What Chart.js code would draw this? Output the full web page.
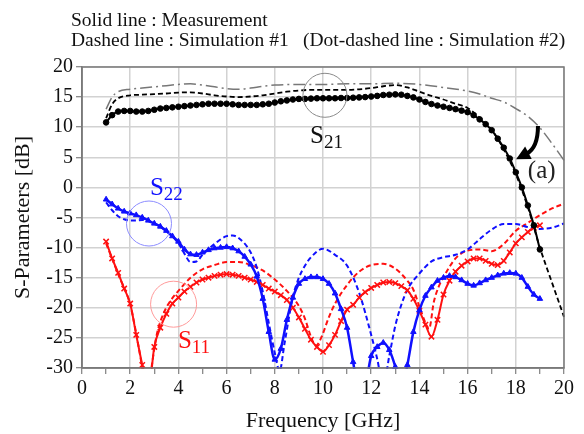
<!DOCTYPE html>
<html>
<head>
<meta charset="utf-8">
<script src="https://cdn.jsdelivr.net/npm/chart.js@4.4.1/dist/chart.umd.min.js"></script>
<style>
  body { margin: 0; background: #fff; }
  canvas { display: block; }
</style>
</head>
<body>
<canvas id="chart" width="584" height="434"></canvas>
<script>
// measured data, 0.25 GHz steps from 1 to 19 GHz
var freqMeas = [
  1, 1.25, 1.5, 1.75, 2, 2.25, 2.5, 2.75, 3, 3.25, 3.5, 3.75, 4, 4.25, 4.5, 4.75,
  5, 5.25, 5.5, 5.75, 6, 6.25, 6.5, 6.75, 7, 7.25, 7.5, 7.75, 8, 8.25, 8.5, 8.75,
  9, 9.25, 9.5, 9.75, 10, 10.25, 10.5, 10.75, 11, 11.25, 11.5, 11.75, 12, 12.25, 12.5, 12.75,
  13, 13.25, 13.5, 13.75, 14, 14.25, 14.5, 14.75, 15, 15.25, 15.5, 15.75, 16, 16.25, 16.5, 16.75,
  17, 17.25, 17.5, 17.75, 18, 18.25, 18.5, 18.75, 19
];
var s21Meas = [
  10.8, 12.0, 12.6, 12.7, 12.7, 12.6, 12.6, 12.7, 12.9, 13.1, 13.2, 13.3, 13.4, 13.5, 13.6, 13.7,
  13.8, 13.9, 13.9, 13.9, 13.9, 13.8, 13.7, 13.7, 13.7, 13.7, 13.8, 13.9, 14.1, 14.3, 14.45, 14.6,
  14.7, 14.7, 14.75, 14.8, 14.8, 14.8, 14.8, 14.85, 14.85, 14.9, 14.95, 15.0, 15.1, 15.2, 15.35, 15.4,
  15.45, 15.4, 15.2, 14.95, 14.6, 14.2, 13.85, 13.6, 13.4, 13.2, 13.0, 12.75, 12.5, 12.0, 11.3, 10.5,
  9.5, 8.1, 6.6, 4.8, 2.5, 0.0, -3.0, -6.3, -10.3
];
var s22Meas = [
  -2.0, -2.8, -3.5, -4.0, -4.3, -4.6, -5.0, -5.5, -6.0, -6.5, -7.2, -8.1, -9.0, -10.3, -11.1, -11.2,
  -10.8, -10.4, -10.1, -10.0, -9.9, -10.1, -10.6, -11.5, -12.8, -14.8, -18.5, -24.0, -28.6, -26.8, -22.0, -18.3,
  -16.0, -15.2, -14.9, -14.9, -15.2, -16.0, -17.6, -20.2, -23.3, -29.0, -34, -33, -28.0, -26.5, -25.8, -27.0,
  -29.8, -34, -29.5, -24.0, -20.4, -18.0, -16.6, -15.5, -15.0, -14.7, -14.9, -15.4, -16.0, -16.3, -15.9, -15.4,
  -15.0, -14.6, -14.3, -14.2, -14.3, -15.0, -16.5, -17.8, -18.5
];
var s11Meas = [
  -9.0, -11.8, -14.2, -16.8, -19.3, -24.5, -29.5, -34, -26.5, -23.3, -21.0, -19.3, -18.3, -17.3, -16.5, -15.8,
  -15.3, -15.0, -14.7, -14.5, -14.4, -14.5, -14.7, -15.0, -15.3, -15.7, -16.2, -16.8, -17.3, -17.9, -18.7, -20.0,
  -21.6, -23.5, -25.3, -26.5, -27.3, -26.2, -24.5, -22.2, -20.3, -19.5, -18.3, -17.4, -16.7, -16.2, -15.8, -15.7,
  -15.9, -16.4, -17.1, -18.5, -20.5, -22.8, -24.8, -22.0, -17.8, -15.5, -14.0, -13.0, -12.3, -11.8, -11.8, -12.2,
  -12.7, -12.9, -12.2, -10.8, -9.3, -8.3, -7.4, -6.7, -6.3
];

// simulation #1 (dashed)
var s21SimFreq = [1, 1.25, 1.5, 2, 2.5, 3, 3.5, 4, 4.5, 5, 5.5, 6, 6.5, 7, 7.5, 8, 8.5, 9, 9.5, 10,
  10.5, 11, 11.5, 12, 12.5, 13, 13.5, 14, 14.5, 15, 15.5, 16, 16.5, 17, 17.5, 18, 18.5, 19, 19.5, 20];
var s21Sim = [11.5, 13.8, 14.8, 15.3, 15.4, 15.5, 15.6, 15.75, 15.8, 15.6, 15.3, 15.1, 15.0, 15.1, 15.3, 15.6, 15.9, 16.1, 16.2, 16.2,
  16.2, 16.2, 16.3, 16.5, 16.8, 17.0, 16.6, 15.9, 15.2, 14.6, 13.9, 13.2, 11.6, 9.6, 6.3, 2.2, -3.3, -10.0, -15.8, -21.5];

var s22SimFreq = [1, 1.25, 1.5, 1.75, 2, 2.25, 2.5, 3, 3.5, 4, 4.25, 4.5, 4.75, 5, 5.5, 6, 6.25, 6.5, 7, 7.25,
  7.5, 7.75, 8, 8.2, 8.4, 8.75, 9, 9.25, 9.5, 10, 10.5, 11, 11.5, 12, 12.25, 12.5, 12.75, 13, 13.25, 13.5,
  14, 14.5, 15, 15.5, 16, 16.5, 17, 17.5, 18, 18.5, 19, 19.5, 20];
var s22Sim = [-2.5, -3.8, -4.8, -5.3, -5.5, -5.5, -5.4, -6.0, -7.3, -9.3, -11.0, -12.4, -12.3, -11.2, -9.4, -8.1, -8.0, -8.4, -10.8, -13.3,
  -17.3, -22.5, -27.5, -30.5, -26.0, -18.2, -15.0, -13.0, -11.6, -10.2, -11.2, -13.0, -17.5, -24.5, -28.5, -33, -28.0, -23.0, -19.5, -17.0,
  -14.3, -12.3, -11.6, -11.2, -10.3, -8.6, -7.0, -6.1, -6.1, -6.6, -6.9, -6.7, -6.0];

var s11SimFreq = [1, 1.5, 2, 2.25, 2.5, 2.7, 2.9, 3.1, 3.4, 3.75, 4, 4.5, 5, 5.5, 6, 6.5, 7, 7.5, 8, 8.5,
  9, 9.25, 9.5, 9.7, 9.9, 10.25, 10.5, 11, 11.5, 12, 12.5, 13, 13.5, 13.75, 14, 14.25, 14.4, 14.6, 14.8, 15,
  15.5, 16, 16.5, 17, 17.5, 18, 18.5, 19, 19.5, 20];
var s11Sim = [-9.3, -14.4, -19.5, -24.3, -30, -35, -29.5, -24.5, -20.8, -18.4, -17.2, -15.0, -13.6, -12.9, -12.4, -12.4, -12.9, -13.8, -15.3, -17.2,
  -19.7, -21.8, -24.8, -26.3, -25.2, -21.5, -19.3, -16.2, -14.0, -12.9, -12.7, -13.5, -15.5, -17.0, -19.8, -22.5, -23.5, -19.0, -16.5, -14.9,
  -11.8, -10.5, -10.3, -10.6, -9.4, -7.2, -5.9, -4.6, -3.5, -2.7];

// simulation #2 (dot-dashed), S21 only
var s21Sim2Freq = [1, 1.25, 1.5, 2, 2.5, 3, 3.5, 4, 4.5, 5, 5.5, 6, 6.5, 7, 7.5, 8, 9, 10, 11, 12,
  13, 14, 15, 16, 16.5, 17, 17.5, 18, 18.5, 19, 19.5, 20];
var s21Sim2 = [13.0, 15.0, 15.9, 16.3, 16.5, 16.7, 16.9, 17.1, 17.2, 17.0, 16.7, 16.4, 16.3, 16.5, 16.8, 17.0, 17.1, 17.1, 17.2, 17.2,
  17.3, 17.1, 16.6, 16.0, 15.5, 14.8, 14.2, 13.1, 11.8, 9.9, 7.3, 4.5];

var serif = '"Liberation Serif", "Times New Roman", serif';
var blue = '#1010ff';
var red = '#ff1010';

function pts(xs, ys) {
  return xs.map(function (x, i) { return { x: x, y: ys[i] }; });
}

function subLabel(ctx, x, y, main, sub, color) {
  ctx.fillStyle = color;
  ctx.textAlign = 'left';
  ctx.textBaseline = 'alphabetic';
  ctx.font = '25px ' + serif;
  ctx.fillText(main, x, y);
  var w = ctx.measureText(main).width;
  ctx.font = '19px ' + serif;
  ctx.fillText(sub, x + w, y + 5);
}

var overlay = {
  id: 'overlay',
  afterDraw: function (chart) {
    var ctx = chart.ctx;
    var a = chart.chartArea;
    var sx = chart.scales.x, sy = chart.scales.y;
    function px(v) { return sx.getPixelForValue(v); }
    function py(v) { return sy.getPixelForValue(v); }
    ctx.save();

    // plot frame
    ctx.strokeStyle = '#7a7a7a';
    ctx.lineWidth = 1.5;
    ctx.strokeRect(a.left, a.top, a.right - a.left, a.bottom - a.top);

    // header text
    ctx.fillStyle = '#111';
    ctx.font = '19.5px ' + serif;
    ctx.textAlign = 'left';
    ctx.textBaseline = 'alphabetic';
    ctx.fillText('Solid line : Measurement', 71, 26);
    ctx.fillText('Dashed line : Simulation #1', 71, 46);
    ctx.fillText('(Dot-dashed line : Simulation #2)', 303, 46);

    // circles marking the curves
    ctx.lineWidth = 1;
    ctx.strokeStyle = '#8a8a8a';
    ctx.beginPath(); ctx.arc(px(10.08), py(15.3), 22, 0, Math.PI * 2); ctx.stroke();
    ctx.strokeStyle = '#8c8cff';
    ctx.beginPath(); ctx.arc(px(2.78), py(-6.0), 22.5, 0, Math.PI * 2); ctx.stroke();
    ctx.strokeStyle = '#ff9a9a';
    ctx.beginPath(); ctx.arc(px(3.8), py(-19.4), 23, 0, Math.PI * 2); ctx.stroke();

    subLabel(ctx, px(9.46), py(7.3), 'S', '21', '#111');
    subLabel(ctx, px(2.82), py(-1.3), 'S', '22', blue);
    subLabel(ctx, px(3.98), py(-26.7), 'S', '11', red);

    // arrow (a)
    var x0 = px(18.92), y0 = py(10.2);
    var cx = px(18.92), cy = py(6.6);
    var x1 = px(18.45), y1 = py(5.6);
    ctx.strokeStyle = '#000';
    ctx.lineWidth = 4;
    ctx.beginPath();
    ctx.moveTo(x0, y0);
    ctx.quadraticCurveTo(cx, cy, x1, y1);
    ctx.stroke();
    var dx = x1 - cx, dy = y1 - cy, len = Math.sqrt(dx * dx + dy * dy);
    dx /= len; dy /= len;
    var tipX = x1 + dx * 12, tipY = y1 + dy * 12;
    ctx.fillStyle = '#000';
    ctx.beginPath();
    ctx.moveTo(tipX, tipY);
    ctx.lineTo(x1 - dy * 7 - dx * 2, y1 + dx * 7 - dy * 2);
    ctx.lineTo(x1 + dy * 7 - dx * 2, y1 - dx * 7 - dy * 2);
    ctx.closePath();
    ctx.fill();

    ctx.fillStyle = '#222';
    ctx.font = '25px ' + serif;
    ctx.fillText('(a)', px(18.5), py(1.6));

    ctx.restore();
  }
};

var ctx = document.getElementById('chart').getContext('2d');
var chart = new Chart(ctx, {
  type: 'line',
  data: {
    datasets: [{
      label: 'S21 measurement',
      data: pts(freqMeas, s21Meas),
      borderColor: '#000', backgroundColor: '#000', borderWidth: 2,
      pointStyle: 'circle', pointRadius: 2.8, pointBorderWidth: 1
    }, {
      label: 'S22 measurement',
      data: pts(freqMeas, s22Meas),
      borderColor: blue, backgroundColor: blue, borderWidth: 2.5,
      pointStyle: 'triangle', pointRadius: 3.2, pointBorderWidth: 1
    }, {
      label: 'S11 measurement',
      data: pts(freqMeas, s11Meas),
      borderColor: red, backgroundColor: red, borderWidth: 2,
      pointStyle: 'crossRot', pointRadius: 3.8, pointBorderWidth: 1.5
    }, {
      label: 'S21 simulation #1',
      data: pts(s21SimFreq, s21Sim),
      borderColor: '#000', borderWidth: 1.8, borderDash: [5, 3], pointRadius: 0
    }, {
      label: 'S22 simulation #1',
      data: pts(s22SimFreq, s22Sim),
      borderColor: blue, borderWidth: 2, borderDash: [5, 3], pointRadius: 0
    }, {
      label: 'S11 simulation #1',
      data: pts(s11SimFreq, s11Sim),
      borderColor: red, borderWidth: 2, borderDash: [5, 3], pointRadius: 0
    }, {
      label: 'S21 simulation #2',
      data: pts(s21Sim2Freq, s21Sim2),
      borderColor: '#777', borderWidth: 1.5, borderDash: [12, 4, 2, 4], pointRadius: 0
    }]
  },
  options: {
    responsive: false,
    animation: false,
    layout: { padding: { top: 67, right: 20, left: 0, bottom: 0 } },
    elements: { line: { cubicInterpolationMode: 'monotone', fill: false } },
    datasets: { line: { clip: 1 } },
    plugins: { legend: { display: false }, tooltip: { enabled: false } },
    scales: {
      x: {
        type: 'linear', min: 0, max: 20,
        ticks: {
          stepSize: 1, autoSkip: false, maxRotation: 0, padding: 3,
          color: '#111', font: { family: serif, size: 20 },
          callback: function (v) { return v % 2 === 0 ? v : ''; }
        },
        grid: {
          color: function (c) { return c.tick && c.tick.value % 2 ? 'rgba(0,0,0,0)' : '#d2d2d2'; },
          lineWidth: 1.5, tickLength: 6, tickColor: '#666', tickWidth: 1
        },
        border: { display: true, color: '#7a7a7a', width: 1.5 },
        title: {
          display: true, text: 'Frequency [GHz]', color: '#111',
          font: { family: serif, size: 22 }, padding: { top: 0, bottom: 0 }
        },
        afterFit: function (s) { s.height = 66; }
      },
      y: {
        min: -30, max: 20,
        ticks: {
          stepSize: 5, padding: 3, color: '#111', font: { family: serif, size: 20 }
        },
        grid: { color: '#d2d2d2', lineWidth: 1.5, tickLength: 6, tickColor: '#666', tickWidth: 1 },
        border: { display: true, color: '#7a7a7a', width: 1.5 },
        title: {
          display: true, text: 'S-Parameters [dB]', color: '#111',
          font: { family: serif, size: 22 }, padding: { top: 10, bottom: 0 }
        },
        afterFit: function (s) { s.width = 82; }
      }
    }
  },
  plugins: [overlay]
});
</script>
</body>
</html>
